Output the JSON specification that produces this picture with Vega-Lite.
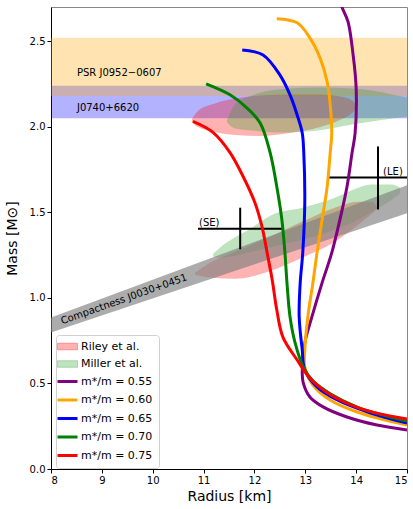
{
  "$schema": "https://vega.github.io/schema/vega-lite/v6.json",
  "width": 356,
  "height": 462,
  "autosize": "none",
  "padding": {"left": 51, "top": 7, "right": 6, "bottom": 40},
  "background": "white",
  "config": {
    "font": "DejaVu Sans",
    "view": {"stroke": "#888888", "strokeWidth": 1},
    "axis": {"grid": false, "domainColor": "#000000", "tickColor": "#000000", "labelColor": "#000000", "titleColor": "#000000", "labelFontSize": 10, "titleFontSize": 14, "titleFontWeight": "normal", "labelFont": "DejaVu Sans", "titleFont": "DejaVu Sans", "tickSize": 4}
  },
  "datasets": {
    "bands": [
      {"name": "J0740+6620", "lo": 2.05, "hi": 2.24},
      {"name": "PSR J0952-0607", "lo": 2.18, "hi": 2.52}
    ],
    "compact": [
      {"R": 8, "lo": 0.797, "hi": 0.885},
      {"R": 15, "lo": 1.494, "hi": 1.659}
    ],
    "contours": [
      {"shape": "Riley J0740", "source": "Riley et al.", "R": 10.77, "lo": 2.03, "hi": 2.045},
      {"shape": "Riley J0740", "source": "Riley et al.", "R": 10.88, "lo": 2.0, "hi": 2.09},
      {"shape": "Riley J0740", "source": "Riley et al.", "R": 11.22, "lo": 1.97, "hi": 2.136},
      {"shape": "Riley J0740", "source": "Riley et al.", "R": 11.62, "lo": 1.952, "hi": 2.165},
      {"shape": "Riley J0740", "source": "Riley et al.", "R": 12.11, "lo": 1.946, "hi": 2.183},
      {"shape": "Riley J0740", "source": "Riley et al.", "R": 12.7, "lo": 1.964, "hi": 2.189},
      {"shape": "Riley J0740", "source": "Riley et al.", "R": 13.29, "lo": 1.999, "hi": 2.189},
      {"shape": "Riley J0740", "source": "Riley et al.", "R": 13.68, "lo": 2.04, "hi": 2.177},
      {"shape": "Riley J0740", "source": "Riley et al.", "R": 13.92, "lo": 2.081, "hi": 2.154},
      {"shape": "Riley J0740", "source": "Riley et al.", "R": 14.02, "lo": 2.113, "hi": 2.125},
      {"shape": "Riley J0030", "source": "Riley et al.", "R": 10.83, "lo": 1.135, "hi": 1.147},
      {"shape": "Riley J0030", "source": "Riley et al.", "R": 11.17, "lo": 1.118, "hi": 1.212},
      {"shape": "Riley J0030", "source": "Riley et al.", "R": 11.62, "lo": 1.112, "hi": 1.27},
      {"shape": "Riley J0030", "source": "Riley et al.", "R": 12.27, "lo": 1.153, "hi": 1.352},
      {"shape": "Riley J0030", "source": "Riley et al.", "R": 12.94, "lo": 1.235, "hi": 1.446},
      {"shape": "Riley J0030", "source": "Riley et al.", "R": 13.58, "lo": 1.328, "hi": 1.527},
      {"shape": "Riley J0030", "source": "Riley et al.", "R": 14.04, "lo": 1.428, "hi": 1.562},
      {"shape": "Riley J0030", "source": "Riley et al.", "R": 14.31, "lo": 1.492, "hi": 1.562},
      {"shape": "Riley J0030", "source": "Riley et al.", "R": 14.41, "lo": 1.516, "hi": 1.533},
      {"shape": "Miller J0740", "source": "Miller et al.", "R": 11.46, "lo": 2.025, "hi": 2.037},
      {"shape": "Miller J0740", "source": "Miller et al.", "R": 11.62, "lo": 1.99, "hi": 2.131},
      {"shape": "Miller J0740", "source": "Miller et al.", "R": 11.95, "lo": 1.978, "hi": 2.183},
      {"shape": "Miller J0740", "source": "Miller et al.", "R": 12.46, "lo": 1.966, "hi": 2.218},
      {"shape": "Miller J0740", "source": "Miller et al.", "R": 13.25, "lo": 1.978, "hi": 2.23},
      {"shape": "Miller J0740", "source": "Miller et al.", "R": 13.92, "lo": 2.013, "hi": 2.224},
      {"shape": "Miller J0740", "source": "Miller et al.", "R": 14.31, "lo": 2.031, "hi": 2.212},
      {"shape": "Miller J0740", "source": "Miller et al.", "R": 14.7, "lo": 2.048, "hi": 2.189},
      {"shape": "Miller J0740", "source": "Miller et al.", "R": 15.0, "lo": 2.06, "hi": 2.171},
      {"shape": "Miller J0030", "source": "Miller et al.", "R": 11.19, "lo": 1.241, "hi": 1.258},
      {"shape": "Miller J0030", "source": "Miller et al.", "R": 11.32, "lo": 1.235, "hi": 1.293},
      {"shape": "Miller J0030", "source": "Miller et al.", "R": 11.95, "lo": 1.27, "hi": 1.41},
      {"shape": "Miller J0030", "source": "Miller et al.", "R": 12.35, "lo": 1.299, "hi": 1.486},
      {"shape": "Miller J0030", "source": "Miller et al.", "R": 12.94, "lo": 1.34, "hi": 1.527},
      {"shape": "Miller J0030", "source": "Miller et al.", "R": 13.58, "lo": 1.398, "hi": 1.585},
      {"shape": "Miller J0030", "source": "Miller et al.", "R": 14.04, "lo": 1.457, "hi": 1.644},
      {"shape": "Miller J0030", "source": "Miller et al.", "R": 14.31, "lo": 1.504, "hi": 1.662},
      {"shape": "Miller J0030", "source": "Miller et al.", "R": 14.7, "lo": 1.574, "hi": 1.662},
      {"shape": "Miller J0030", "source": "Miller et al.", "R": 14.86, "lo": 1.609, "hi": 1.644}
    ],
    "curves": [
      {"series": "m*/m = 0.55", "i": 0, "R": 13.64, "M": 2.77},
      {"series": "m*/m = 0.55", "i": 1, "R": 13.72, "M": 2.70},
      {"series": "m*/m = 0.55", "i": 2, "R": 13.84, "M": 2.614},
      {"series": "m*/m = 0.55", "i": 3, "R": 13.94, "M": 2.421},
      {"series": "m*/m = 0.55", "i": 4, "R": 14.0, "M": 2.228},
      {"series": "m*/m = 0.55", "i": 5, "R": 13.98, "M": 1.964},
      {"series": "m*/m = 0.55", "i": 6, "R": 13.92, "M": 1.849},
      {"series": "m*/m = 0.55", "i": 7, "R": 13.82, "M": 1.649},
      {"series": "m*/m = 0.55", "i": 8, "R": 13.68, "M": 1.456},
      {"series": "m*/m = 0.55", "i": 9, "R": 13.52, "M": 1.263},
      {"series": "m*/m = 0.55", "i": 10, "R": 13.33, "M": 1.088},
      {"series": "m*/m = 0.55", "i": 11, "R": 13.13, "M": 0.889},
      {"series": "m*/m = 0.55", "i": 12, "R": 12.99, "M": 0.737},
      {"series": "m*/m = 0.55", "i": 13, "R": 12.94, "M": 0.561},
      {"series": "m*/m = 0.55", "i": 14, "R": 12.96, "M": 0.503},
      {"series": "m*/m = 0.55", "i": 15, "R": 13.09, "M": 0.421},
      {"series": "m*/m = 0.55", "i": 16, "R": 13.35, "M": 0.363},
      {"series": "m*/m = 0.55", "i": 17, "R": 13.82, "M": 0.304},
      {"series": "m*/m = 0.55", "i": 18, "R": 14.41, "M": 0.257},
      {"series": "m*/m = 0.55", "i": 19, "R": 15.0, "M": 0.228},
      {"series": "m*/m = 0.60", "i": 0, "R": 12.44, "M": 2.632},
      {"series": "m*/m = 0.60", "i": 1, "R": 12.84, "M": 2.608},
      {"series": "m*/m = 0.60", "i": 2, "R": 13.09, "M": 2.52},
      {"series": "m*/m = 0.60", "i": 3, "R": 13.29, "M": 2.403},
      {"series": "m*/m = 0.60", "i": 4, "R": 13.43, "M": 2.263},
      {"series": "m*/m = 0.60", "i": 5, "R": 13.49, "M": 2.128},
      {"series": "m*/m = 0.60", "i": 6, "R": 13.52, "M": 1.964},
      {"series": "m*/m = 0.60", "i": 7, "R": 13.49, "M": 1.849},
      {"series": "m*/m = 0.60", "i": 8, "R": 13.43, "M": 1.649},
      {"series": "m*/m = 0.60", "i": 9, "R": 13.33, "M": 1.456},
      {"series": "m*/m = 0.60", "i": 10, "R": 13.23, "M": 1.263},
      {"series": "m*/m = 0.60", "i": 11, "R": 13.15, "M": 1.088},
      {"series": "m*/m = 0.60", "i": 12, "R": 13.05, "M": 0.889},
      {"series": "m*/m = 0.60", "i": 13, "R": 12.99, "M": 0.696},
      {"series": "m*/m = 0.60", "i": 14, "R": 12.99, "M": 0.597},
      {"series": "m*/m = 0.60", "i": 15, "R": 13.15, "M": 0.491},
      {"series": "m*/m = 0.60", "i": 16, "R": 13.49, "M": 0.403},
      {"series": "m*/m = 0.60", "i": 17, "R": 14.02, "M": 0.333},
      {"series": "m*/m = 0.60", "i": 18, "R": 15.0, "M": 0.257},
      {"series": "m*/m = 0.65", "i": 0, "R": 11.76, "M": 2.449},
      {"series": "m*/m = 0.65", "i": 1, "R": 12.17, "M": 2.42},
      {"series": "m*/m = 0.65", "i": 2, "R": 12.5, "M": 2.303},
      {"series": "m*/m = 0.65", "i": 3, "R": 12.7, "M": 2.186},
      {"series": "m*/m = 0.65", "i": 4, "R": 12.84, "M": 2.069},
      {"series": "m*/m = 0.65", "i": 5, "R": 12.94, "M": 1.964},
      {"series": "m*/m = 0.65", "i": 6, "R": 12.97, "M": 1.849},
      {"series": "m*/m = 0.65", "i": 7, "R": 12.99, "M": 1.556},
      {"series": "m*/m = 0.65", "i": 8, "R": 12.95, "M": 1.263},
      {"series": "m*/m = 0.65", "i": 9, "R": 12.9, "M": 1.088},
      {"series": "m*/m = 0.65", "i": 10, "R": 12.88, "M": 0.889},
      {"series": "m*/m = 0.65", "i": 11, "R": 12.94, "M": 0.696},
      {"series": "m*/m = 0.65", "i": 12, "R": 12.99, "M": 0.579},
      {"series": "m*/m = 0.65", "i": 13, "R": 13.23, "M": 0.48},
      {"series": "m*/m = 0.65", "i": 14, "R": 13.62, "M": 0.405},
      {"series": "m*/m = 0.65", "i": 15, "R": 14.27, "M": 0.329},
      {"series": "m*/m = 0.65", "i": 16, "R": 15.0, "M": 0.269},
      {"series": "m*/m = 0.70", "i": 0, "R": 11.05, "M": 2.251},
      {"series": "m*/m = 0.70", "i": 1, "R": 11.52, "M": 2.187},
      {"series": "m*/m = 0.70", "i": 2, "R": 11.85, "M": 2.111},
      {"series": "m*/m = 0.70", "i": 3, "R": 12.11, "M": 2.023},
      {"series": "m*/m = 0.70", "i": 4, "R": 12.31, "M": 1.848},
      {"series": "m*/m = 0.70", "i": 5, "R": 12.44, "M": 1.649},
      {"series": "m*/m = 0.70", "i": 6, "R": 12.54, "M": 1.456},
      {"series": "m*/m = 0.70", "i": 7, "R": 12.6, "M": 1.263},
      {"series": "m*/m = 0.70", "i": 8, "R": 12.64, "M": 1.088},
      {"series": "m*/m = 0.70", "i": 9, "R": 12.7, "M": 0.889},
      {"series": "m*/m = 0.70", "i": 10, "R": 12.8, "M": 0.737},
      {"series": "m*/m = 0.70", "i": 11, "R": 12.96, "M": 0.597},
      {"series": "m*/m = 0.70", "i": 12, "R": 13.15, "M": 0.515},
      {"series": "m*/m = 0.70", "i": 13, "R": 13.49, "M": 0.44},
      {"series": "m*/m = 0.70", "i": 14, "R": 14.02, "M": 0.362},
      {"series": "m*/m = 0.70", "i": 15, "R": 14.47, "M": 0.32},
      {"series": "m*/m = 0.70", "i": 16, "R": 15.0, "M": 0.281},
      {"series": "m*/m = 0.75", "i": 0, "R": 10.79, "M": 2.031},
      {"series": "m*/m = 0.75", "i": 1, "R": 11.19, "M": 1.966},
      {"series": "m*/m = 0.75", "i": 2, "R": 11.52, "M": 1.849},
      {"series": "m*/m = 0.75", "i": 3, "R": 11.78, "M": 1.708},
      {"series": "m*/m = 0.75", "i": 4, "R": 12.01, "M": 1.556},
      {"series": "m*/m = 0.75", "i": 5, "R": 12.15, "M": 1.415},
      {"series": "m*/m = 0.75", "i": 6, "R": 12.25, "M": 1.263},
      {"series": "m*/m = 0.75", "i": 7, "R": 12.35, "M": 1.105},
      {"series": "m*/m = 0.75", "i": 8, "R": 12.44, "M": 0.929},
      {"series": "m*/m = 0.75", "i": 9, "R": 12.56, "M": 0.771},
      {"series": "m*/m = 0.75", "i": 10, "R": 12.84, "M": 0.637},
      {"series": "m*/m = 0.75", "i": 11, "R": 13.09, "M": 0.532},
      {"series": "m*/m = 0.75", "i": 12, "R": 13.49, "M": 0.435},
      {"series": "m*/m = 0.75", "i": 13, "R": 14.02, "M": 0.36},
      {"series": "m*/m = 0.75", "i": 14, "R": 14.47, "M": 0.322},
      {"series": "m*/m = 0.75", "i": 15, "R": 15.0, "M": 0.292}
    ],
    "bars": [
      {"R": 10.89, "R2": 12.56, "M": 1.404, "M2": 1.404},
      {"R": 11.72, "R2": 11.72, "M": 1.284, "M2": 1.527},
      {"R": 13.43, "R2": 15.0, "M": 1.703, "M2": 1.703},
      {"R": 14.43, "R2": 14.43, "M": 1.517, "M2": 1.885}
    ],
    "labels": [
      {"text": "(SE)", "R": 10.91, "M": 1.422},
      {"text": "(LE)", "R": 14.53, "M": 1.72},
      {"text": "PSR J0952−0607", "R": 8.51, "M": 2.299},
      {"text": "J0740+6620", "R": 8.51, "M": 2.094}
    ],
    "ctext": [
      {"text": "Compactness J0030+0451", "R": 9.435, "M": 0.992}
    ]
  },
  "layer": [
    {
      "data": {"name": "bands"},
      "transform": [{"filter": "datum.name === 'J0740+6620'"}],
      "mark": {"type": "rect", "color": "#0000ff", "opacity": 0.3},
      "encoding": {
        "y": {"field": "lo", "type": "quantitative", "scale": {"domain": [0, 2.7], "nice": false, "zero": false}, "axis": {"values": [0, 0.5, 1, 1.5, 2, 2.5], "format": ".1f", "title": "Mass [M⊙]", "titlePadding": 10}},
        "y2": {"field": "hi"}
      }
    },
    {
      "data": {"name": "bands"},
      "transform": [{"filter": "datum.name === 'PSR J0952-0607'"}],
      "mark": {"type": "rect", "color": "#ffa500", "opacity": 0.3},
      "encoding": {
        "y": {"field": "lo", "type": "quantitative"},
        "y2": {"field": "hi"}
      }
    },
    {
      "data": {"name": "contours"},
      "mark": {"type": "area", "orient": "vertical", "fillOpacity": 0.3, "clip": true, "interpolate": "monotone"},
      "encoding": {
        "x": {"field": "R", "type": "quantitative", "scale": {"domain": [8, 15], "nice": false, "zero": false}, "axis": {"values": [8, 9, 10, 11, 12, 13, 14, 15], "title": "Radius [km]", "titlePadding": 4}},
        "y": {"field": "lo", "type": "quantitative", "stack": null},
        "y2": {"field": "hi"},
        "detail": {"field": "shape"},
        "color": {"field": "source", "type": "nominal"}
      }
    },
    {
      "data": {"name": "compact"},
      "mark": {"type": "area", "color": "#808080", "opacity": 0.65, "orient": "vertical", "clip": true},
      "encoding": {
        "x": {"field": "R", "type": "quantitative"},
        "y": {"field": "lo", "type": "quantitative", "stack": null},
        "y2": {"field": "hi"}
      }
    },
    {
      "data": {"name": "bars"},
      "mark": {"type": "rule", "color": "#000000", "strokeWidth": 2, "clip": true},
      "encoding": {
        "x": {"field": "R", "type": "quantitative"},
        "x2": {"field": "R2"},
        "y": {"field": "M", "type": "quantitative"},
        "y2": {"field": "M2"}
      }
    },
    {
      "data": {"name": "curves"},
      "mark": {"type": "line", "strokeWidth": 3, "clip": true, "interpolate": "catmull-rom"},
      "encoding": {
        "x": {"field": "R", "type": "quantitative"},
        "y": {"field": "M", "type": "quantitative"},
        "order": {"field": "i", "type": "quantitative"},
        "color": {
          "field": "series", "type": "nominal",
          "scale": {
            "domain": ["Riley et al.", "Miller et al.", "m*/m = 0.55", "m*/m = 0.60", "m*/m = 0.65", "m*/m = 0.70", "m*/m = 0.75"],
            "range": ["#ff0000", "#2ca02c", "#800080", "#ffa500", "#0000ff", "#008000", "#ff0000"]
          },
          "legend": {
            "title": null,
            "orient": "none",
            "legendX": 5,
            "legendY": 328,
            "padding": 6,
            "rowPadding": 5.5,
            "symbolSize": 400,
            "symbolType": "stroke",
            "symbolStrokeWidth": 3,
            "labelFontSize": 11,
            "labelFont": "DejaVu Sans",
            "labelOffset": 8,
            "strokeColor": "#d0d0d0",
            "fillColor": "#ffffff",
            "cornerRadius": 3,
            "encode": {
              "symbols": {
                "update": {
                  "shape": {"signal": "(datum.value === 'Riley et al.' || datum.value === 'Miller et al.') ? 'M-1,-0.33H1V0.33H-1Z' : 'stroke'"},
                  "fill": {"signal": "(datum.value === 'Riley et al.' || datum.value === 'Miller et al.') ? scale('color', datum.value) : 'transparent'"},
                  "fillOpacity": {"value": 0.3},
                  "stroke": {"signal": "scale('color', datum.value)"},
                  "strokeOpacity": {"signal": "(datum.value === 'Riley et al.' || datum.value === 'Miller et al.') ? 0.3 : 1"},
                  "strokeWidth": {"signal": "(datum.value === 'Riley et al.' || datum.value === 'Miller et al.') ? 1 : 3"},
                  "opacity": {"value": 1}
                }
              }
            }
          }
        }
      }
    },
    {
      "data": {"name": "labels"},
      "mark": {"type": "text", "align": "left", "baseline": "alphabetic", "fontSize": 10, "font": "DejaVu Sans", "color": "#000000"},
      "encoding": {
        "x": {"field": "R", "type": "quantitative"},
        "y": {"field": "M", "type": "quantitative"},
        "text": {"field": "text"}
      }
    },
    {
      "data": {"name": "ctext"},
      "mark": {"type": "text", "align": "center", "baseline": "middle", "fontSize": 10, "font": "DejaVu Sans", "angle": 340.5, "color": "#000000"},
      "encoding": {
        "x": {"field": "R", "type": "quantitative"},
        "y": {"field": "M", "type": "quantitative"},
        "text": {"field": "text"}
      }
    }
  ]
}
